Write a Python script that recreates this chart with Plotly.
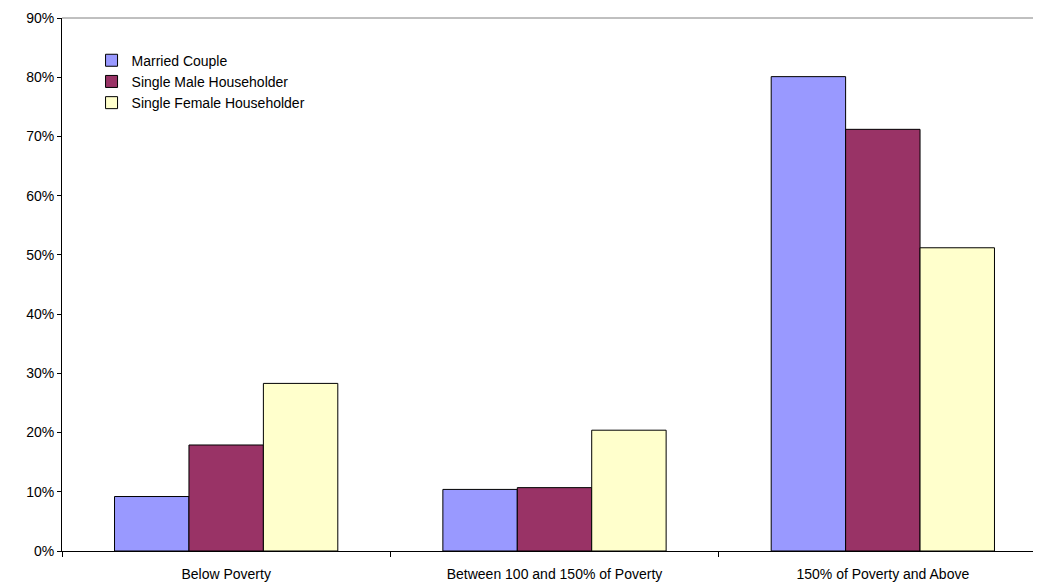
import plotly.graph_objects as go

categories = ["Below Poverty", "Between 100 and 150% of Poverty", "150% of Poverty and Above"]
married = [9.2, 10.4, 80.1]
single_male = [17.9, 10.7, 71.2]
single_female = [28.3, 20.4, 51.2]

series = [
    ("Married Couple", married, "#9999FF"),
    ("Single Male Householder", single_male, "#993366"),
    ("Single Female Householder", single_female, "#FFFFCC"),
]

fig = go.Figure()
for name, vals, color in series:
    fig.add_trace(go.Bar(x=categories, y=vals, name=name,
                         marker=dict(color=color, line=dict(color="black", width=1))))

fig.update_layout(
    width=1041, height=588,
    barmode="group", bargap=0.32, bargroupgap=0,
    paper_bgcolor="white", plot_bgcolor="white",
    font=dict(family="Liberation Sans, Arial", size=14, color="black"),
    margin=dict(l=54, r=2, t=10, b=45),
    legend=dict(x=0.03, y=0.95, xanchor="left", yanchor="top",
                font=dict(size=14), bgcolor="rgba(0,0,0,0)", itemwidth=30,
                tracegroupgap=0),
    xaxis=dict(showline=True, linecolor="black", linewidth=1,
               ticks="outside", tickson="boundaries", ticklen=5, tickcolor="black",
               ticklabelstandoff=10,
               showgrid=False, tickfont=dict(color="black", size=14)),
    yaxis=dict(range=[0, 90], dtick=10, ticksuffix="%", showline=True,
               linecolor="black", ticks="outside", ticklen=4, tickcolor="black",
               showgrid=False, zeroline=False, tickfont=dict(color="black", size=14)),
    shapes=[dict(type="line", xref="paper", yref="paper", x0=0, x1=1, y0=1, y1=1,
                 line=dict(color="gray", width=1))],
)
fig.write_html("out.html")
